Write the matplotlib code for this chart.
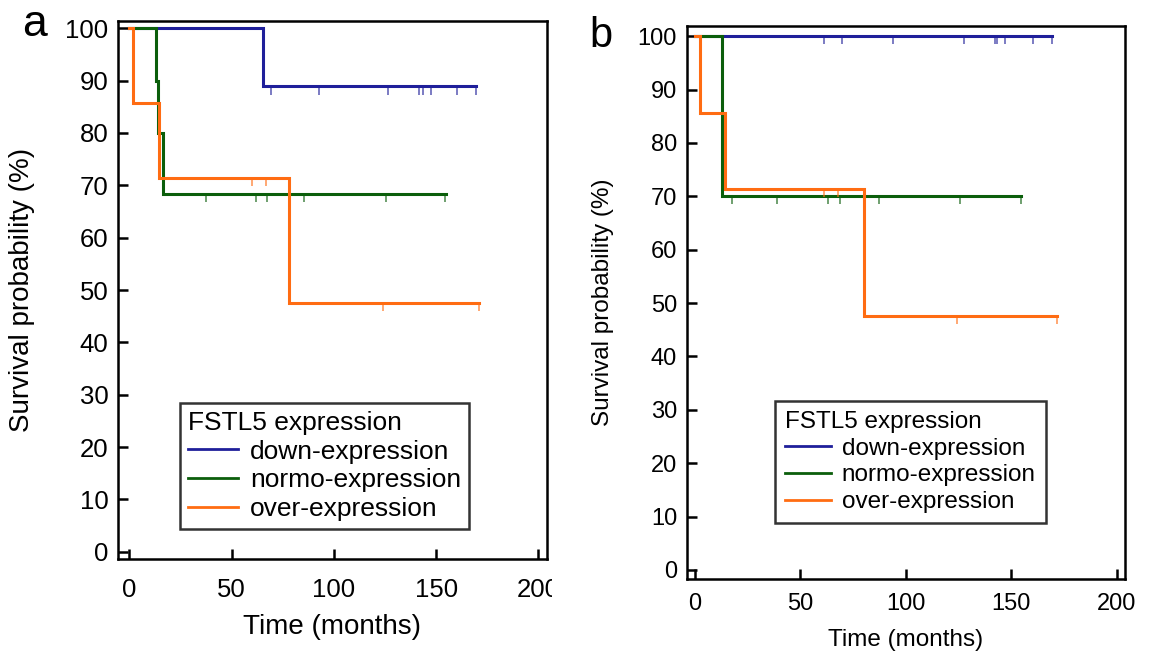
import matplotlib
matplotlib.use("Agg")
import matplotlib.pyplot as plt
from matplotlib.transforms import Bbox

plt.rcParams['font.family'] = ['Liberation Sans', 'DejaVu Sans']

#colours of the three groups
c_down = '#1f1f9a'
c_normo = '#0b5e0b'
c_over = '#ff6c12'

group_names = ['down-expression', 'normo-expression', 'over-expression']

#panel a - step times (months) and survival (%)
a_down_t = [0, 65.2, 169.5]
a_down_s = [100, 88.9, 88.9]
a_normo_t = [0, 13.1, 13.9, 16.6, 154.8]
a_normo_s = [100, 90, 80, 68.4, 68.4]
a_over_t = [0, 1.6, 14.7, 78.2, 171.0]
a_over_s = [100, 85.7, 71.4, 47.6, 47.6]

#panel a - censored times
a_down_cens = [69.1, 92.7, 126.6, 141.8, 143.4, 147.3, 160.0, 169.3]
a_normo_cens = [37.5, 61.9, 67.3, 85.3, 125.5, 154.4]
a_over_cens = [59.8, 66.8, 123.8, 170.8]

#panel b
b_down_t = [0, 169.5]
b_down_s = [100, 100]
b_normo_t = [0, 12.9, 154.6]
b_normo_s = [100, 70, 70]
b_over_t = [0, 2.4, 14.2, 80.0, 171.6]
b_over_s = [100, 85.7, 71.4, 47.6, 47.6]

b_down_cens = [61.1, 69.6, 93.8, 127.7, 142.4, 143.2, 147.2, 160.5, 169.5]
b_normo_cens = [17.7, 39.0, 63.0, 68.9, 87.5, 125.6, 154.6]
b_over_cens = [61.1, 67.7, 124.4, 171.6]

x_ticks = [0, 50, 100, 150, 200]
y_ticks = [0, 10, 20, 30, 40, 50, 60, 70, 80, 90, 100]


def level_at(t, times, surv):
    #survival value of the step curve at time t
    val = surv[0]
    for tt, ss in zip(times, surv):
        if tt <= t:
            val = ss
    return val


def draw_km(ax, times, surv, cens, color, label, tick_len):
    ax.step(times, surv, where='post', color=color, lw=2.2, label=label,
            solid_joinstyle='miter')
    for c in cens:
        y = level_at(c, times, surv)
        ax.vlines(c, y - tick_len, y, color=color, lw=1.1, alpha=0.75)


def style_axes(ax, xlim, ylim, fs, xpad, ypad, labfs):
    ax.set_xlim(*xlim)
    ax.set_ylim(*ylim)
    ax.set_xticks(x_ticks)
    ax.set_yticks(y_ticks)
    ax.tick_params(axis='both', direction='in', length=7, width=1.8,
                   labelsize=fs)
    ax.tick_params(axis='x', pad=xpad)
    ax.tick_params(axis='y', pad=ypad)
    for sp in ax.spines.values():
        sp.set_linewidth(1.8)
    ax.set_xlabel('Time (months)', fontsize=labfs)
    ax.set_ylabel('Survival probability (%)', fontsize=labfs)


def make_legend(ax, anchor, fs, spacing, bpad):
    leg = ax.legend(title='FSTL5 expression', loc='upper left',
                    bbox_to_anchor=anchor, bbox_transform=fig.transFigure,
                    fontsize=fs, title_fontsize=fs, frameon=True, fancybox=False,
                    labelspacing=spacing, handlelength=1.9, handletextpad=0.45,
                    borderpad=bpad, borderaxespad=0)
    leg._legend_box.align = 'left'
    leg.get_frame().set_edgecolor('black')
    leg.get_frame().set_linewidth(1.8)
    for h in leg.get_lines():
        h.set_linewidth(2)
    return leg


fig = plt.figure(figsize=(11.54, 6.52), dpi=100)

#panel a
ax1 = fig.add_axes([0.1025, 0.1426, 0.3712, 0.8252])
draw_km(ax1, a_down_t, a_down_s, a_down_cens, c_down, group_names[0], 1.6)
draw_km(ax1, a_normo_t, a_normo_s, a_normo_cens, c_normo, group_names[1], 1.6)
draw_km(ax1, a_over_t, a_over_s, a_over_cens, c_over, group_names[2], 1.6)
style_axes(ax1, (-5.4, 204), (-1.4, 101.4), 18.5, 14, 7, 20)
ax1.xaxis.labelpad = 8
ax1.yaxis.labelpad = 22
make_legend(ax1, (0.156, 0.382), 19, 0.18, 0.3)

#the "200" of panel a is cut by panel b in the original
fig.canvas.draw()
for lab in ax1.get_xticklabels():
    lab.set_clip_on(True)
    lab.set_clip_box(Bbox.from_extents(0, 0, 552, 652))

#panel b
ax2 = fig.add_axes([0.5951, 0.112, 0.3798, 0.848])
draw_km(ax2, b_down_t, b_down_s, b_down_cens, c_down, group_names[0], 1.5)
draw_km(ax2, b_normo_t, b_normo_s, b_normo_cens, c_normo, group_names[1], 1.5)
draw_km(ax2, b_over_t, b_over_s, b_over_cens, c_over, group_names[2], 1.5)
style_axes(ax2, (-3.9, 204), (-1.7, 101.9), 17, 10, 7, 17.5)
ax2.xaxis.labelpad = 10
ax2.yaxis.labelpad = 17
make_legend(ax2, (0.6716, 0.385), 17.5, 0.2, 0.4)

#panel letters
fig.text(0.030, 0.962, 'a', fontsize=32, ha='center', va='center')
fig.text(0.521, 0.945, 'b', fontsize=30, ha='center', va='center')

fig.savefig('out.png', dpi=100)
